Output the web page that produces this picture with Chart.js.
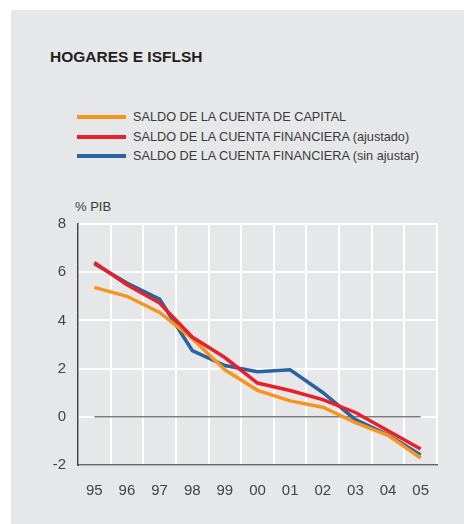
<!DOCTYPE html>
<html>
<head>
<meta charset="utf-8">
<script src="https://cdn.jsdelivr.net/npm/chart.js@4"></script>
<style>
  html, body { margin: 0; padding: 0; background: #fff; }
  body { width: 464px; height: 524px; position: relative; overflow: hidden; font-family: "Liberation Sans", Arial, sans-serif; }
  #panel { position: absolute; left: 11px; top: 10px; right: 0; bottom: 0; background: #e6e7e8; }
  #title { position: absolute; left: 50px; top: 48px; font-size: 15.5px; font-weight: bold; color: #231f20; }
  .leg { position: absolute; left: 77px; font-size: 12.7px; color: #3a3a3a; height: 16px; line-height: 16px; }
  .leg span { display: inline-block; width: 49px; height: 4px; vertical-align: middle; margin-right: 7px; position: relative; top: -1px; }
  #unit { position: absolute; left: 75px; top: 199px; font-size: 13px; color: #3a3a3a; }
  #c { position: absolute; left: 0; top: 0; }
</style>
</head>
<body>
<div id="panel"></div>
<div id="title">HOGARES E ISFLSH</div>
<div class="leg" style="top:109px"><span style="background:#f7941d"></span>SALDO DE LA CUENTA DE CAPITAL</div>
<div class="leg" style="top:129px"><span style="background:#e8202a"></span>SALDO DE LA CUENTA FINANCIERA (ajustado)</div>
<div class="leg" style="top:148px"><span style="background:#2a64a0"></span>SALDO DE LA CUENTA FINANCIERA (sin ajustar)</div>
<div id="unit">% PIB</div>
<canvas id="c" width="464" height="524"></canvas>
<script>
// datos (% del PIB)
const years = ["95", "96", "97", "98", "99", "00", "01", "02", "03", "04", "05"];
const capital = [5.37, 5.0, 4.33, 3.25, 1.95, 1.1, 0.66, 0.4, -0.24, -0.77, -1.71];
const financieraAjustado = [6.4, 5.48, 4.72, 3.31, 2.46, 1.4, 1.09, 0.71, 0.18, -0.58, -1.34];
const financieraSinAjustar = [6.35, 5.55, 4.88, 2.75, 2.13, 1.87, 1.95, 1.01, -0.12, -0.75, -1.58];
const zero = years.map(() => 0);

const ctx = document.getElementById("c").getContext("2d");
new Chart(ctx, {
  type: "line",
  data: {
    labels: years,
    datasets: [
      { label: "ajustado", data: financieraAjustado, borderColor: "#e8202a", borderWidth: 3.5, order: 1 },
      { label: "capital", data: capital, borderColor: "#f7941d", borderWidth: 3.5, order: 2 },
      { label: "sin ajustar", data: financieraSinAjustar, borderColor: "#2a64a0", borderWidth: 3.5, order: 3 },
      { label: "cero", data: zero, borderColor: "#7a7a7a", borderWidth: 1.5, order: 4 },
    ],
  },
  options: {
    responsive: false,
    animation: false,
    elements: { point: { radius: 0 }, line: { tension: 0 } },
    layout: { padding: { left: 0, right: 27, top: 224, bottom: 0 } },
    plugins: { legend: { display: false }, tooltip: { enabled: false } },
    scales: {
      x: {
        offset: true,
        grid: { offset: true, color: "#ffffff", lineWidth: 2, drawTicks: false },
        border: { color: "#666666", width: 1.5 },
        ticks: { color: "#444444", font: { family: "Liberation Sans", size: 15 }, padding: 17, maxRotation: 0 },
        afterFit: (s) => { s.height = 59; },
      },
      y: {
        min: -2,
        max: 8,
        ticks: { stepSize: 2, color: "#444444", font: { family: "Liberation Sans", size: 15 }, padding: 12 },
        grid: { color: "#ffffff", lineWidth: 2, drawTicks: false },
        border: { color: "#444444", width: 1.5 },
        afterFit: (s) => { s.width = 78; },
      },
    },
  },
});
</script>
</body>
</html>
